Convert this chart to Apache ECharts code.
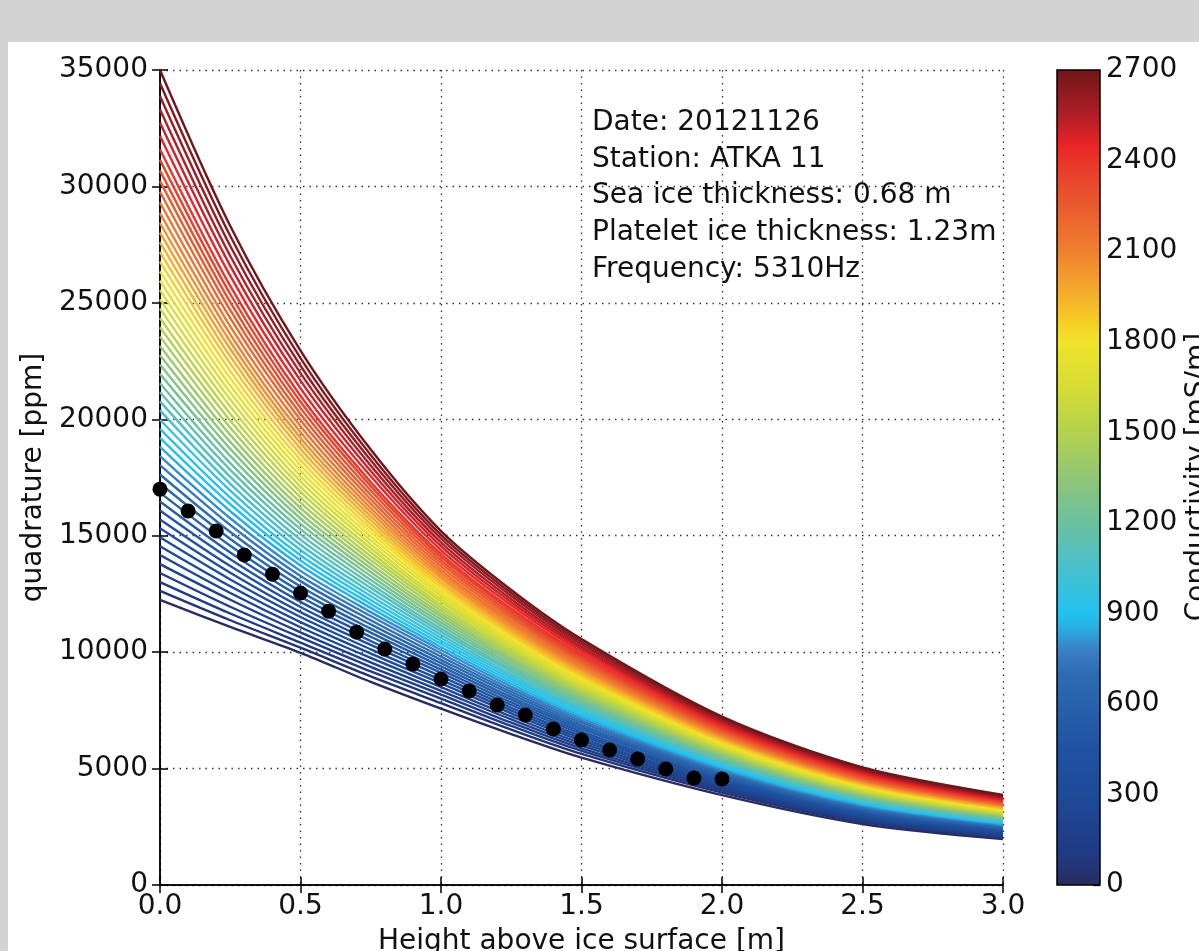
<!DOCTYPE html>
<html><head><meta charset="utf-8">
<script src="https://cdn.jsdelivr.net/npm/echarts@6/dist/echarts.min.js"></script>
<style>
html,body{margin:0;padding:0;background:#d3d3d4;overflow:hidden;}
#panel{position:absolute;left:8px;top:42px;width:1191px;height:909px;background:#fff;}
#c{position:absolute;left:0;top:0;width:1199px;height:951px;}
</style></head>
<body><div id="panel"></div><div id="c"></div>
<script>
// ---- data ----
const heights = [0, 0.25, 0.5, 0.75, 1.0, 1.25, 1.5, 2.0, 2.5, 3.0];
const conductivities = [0,50,100,150,200,250,300,350,400,450,500,550,600,650,700,750,800,850,900,950,1000,
  1050,1100,1150,1200,1250,1300,1350,1400,1450,1500,1550,1600,1650,1700,1750,1800,1850,1900,1950,2000,
  2050,2100,2150,2200,2250,2300,2350,2400,2450,2500,2550,2600,2650,2700];
const q_h000 = [12240,12630,13010,13400,13780,14170,14550,14930,15320,15700,16080,16470,16850,17240,17630,18030,18420,18810,19200,19590,19980,
  20380,20770,21160,21550,21950,22350,22750,23150,23550,23950,24350,24750,25150,25550,25950,26350,26770,27180,27600,28020,
  28430,28850,29310,29770,30230,30680,31140,31600,32170,32730,33300,33870,34430,35000];
const q_h025 = [11080,11370,11660,11950,12250,12540,12830,13120,13410,13700,13990,14280,14570,14860,15160,15460,15750,16050,16350,16640,16940,
  17230,17530,17830,18120,18430,18730,19030,19330,19640,19940,20240,20550,20850,21150,21450,21760,22070,22390,22700,23020,
  23330,23650,23990,24340,24690,25030,25380,25730,26160,26590,27010,27440,27870,28300];
const q_h050 = [9970,10190,10410,10630,10850,11070,11290,11510,11720,11940,12160,12380,12600,12820,13050,13270,13490,13720,13940,14160,14390,
  14610,14830,15060,15280,15510,15740,15960,16190,16420,16650,16880,17100,17330,17560,17790,18020,18250,18490,18730,18970,
  19200,19440,19700,19970,20230,20490,20750,21010,21330,21660,21980,22300,22630,22950];
const q_h075 = [8720,8960,9170,9370,9560,9750,9940,10120,10310,10480,10660,10840,11010,11190,11370,11550,11720,11900,12070,12240,12410,
  12580,12760,12930,13100,13270,13440,13610,13780,13950,14120,14290,14460,14630,14800,14970,15140,15310,15490,15660,15830,
  16010,16180,16370,16560,16750,16940,17130,17310,17550,17780,18010,18240,18470,18700];
const q_h100 = [7570,7810,8000,8180,8340,8500,8660,8810,8960,9110,9250,9390,9530,9670,9810,9950,10090,10220,10360,10490,10620,
  10750,10880,11010,11140,11270,11400,11530,11650,11780,11910,12030,12160,12280,12410,12530,12650,12780,12910,13030,13160,
  13280,13410,13540,13680,13820,13950,14090,14220,14380,14550,14710,14880,15040,15200];
const q_h125 = [6480,6670,6830,6970,7110,7240,7370,7490,7610,7730,7840,7960,8070,8190,8300,8410,8520,8630,8740,8850,8960,
  9060,9170,9270,9380,9480,9590,9690,9790,9900,10000,10100,10200,10300,10400,10500,10600,10710,10810,10910,11010,
  11110,11220,11330,11440,11550,11660,11770,11870,12010,12140,12270,12410,12540,12670];
const q_h150 = [5470,5630,5760,5870,5990,6090,6200,6300,6400,6500,6590,6690,6780,6870,6970,7060,7150,7240,7330,7420,7510,
  7590,7680,7770,7850,7940,8020,8110,8190,8280,8360,8450,8530,8610,8700,8780,8860,8950,9030,9110,9200,
  9280,9360,9460,9550,9640,9730,9820,9910,10020,10130,10230,10340,10450,10560];
const q_h200 = [3860,3970,4050,4130,4200,4270,4340,4410,4480,4540,4600,4670,4730,4790,4850,4910,4970,5030,5090,5150,5210,
  5270,5320,5380,5440,5490,5550,5610,5660,5720,5780,5830,5890,5940,6000,6050,6100,6160,6220,6270,6330,
  6380,6440,6500,6560,6620,6680,6740,6800,6870,6940,7010,7090,7160,7230];
const q_h250 = [2620,2700,2760,2810,2870,2920,2970,3020,3060,3110,3160,3200,3250,3290,3330,3380,3420,3460,3510,3550,3590,
  3630,3680,3720,3760,3800,3840,3880,3920,3960,4000,4040,4080,4120,4160,4200,4240,4280,4320,4360,4400,
  4440,4480,4520,4570,4610,4650,4700,4740,4790,4840,4900,4950,5000,5050];
const q_h300 = [1975,2030,2080,2130,2170,2210,2250,2280,2320,2360,2390,2430,2460,2500,2530,2560,2600,2630,2670,2700,2730,
  2760,2800,2830,2860,2890,2920,2960,2990,3020,3050,3080,3110,3140,3170,3200,3230,3270,3300,3330,3360,
  3390,3420,3450,3490,3520,3560,3590,3620,3660,3700,3740,3780,3830,3870];
const measHeight = [0.0,0.1,0.2,0.3,0.4,0.5,0.6,0.7,0.8,0.9,1.0,1.1,1.2,1.3,1.4,1.5,1.6,1.7,1.8,1.9,2.0];
const measQuad = [17000,16060,15200,14170,13350,12540,11760,10860,10130,9490,8845,8330,7730,7300,6700,6225,5800,5410,4980,4590,4550];
const annotation = ["Date: 20121126","Station: ATKA 11","Sea ice thickness: 0.68 m","Platelet ice thickness: 1.23m","Frequency: 5310Hz"];

// ---- colour map (style) ----
const cmapStops = [
  [0,'#282c5e'],[100,'#203a84'],[300,'#1e4a98'],[450,'#2152a2'],[600,'#2862aa'],[700,'#2e6cb2'],[780,'#3a80c4'],
  [850,'#2aaee2'],[900,'#22c2f0'],[1050,'#48c0cc'],[1200,'#6cc0a0'],[1350,'#90c676'],[1500,'#b4d24e'],
  [1650,'#d6dc34'],[1800,'#f0e22a'],[1870,'#f6cc26'],[1950,'#f5b02c'],[2100,'#f08030'],[2250,'#e95a2e'],
  [2380,'#ea3a2a'],[2450,'#ea2428'],[2550,'#b01e26'],[2700,'#701619']];
function hex2rgb(h){return [1,3,5].map(i=>parseInt(h.substr(i,2),16));}
function cmap(v){
  for(let i=1;i<cmapStops.length;i++){
    if(v<=cmapStops[i][0]){
      const [v0,c0]=cmapStops[i-1],[v1,c1]=cmapStops[i];
      const t=(v-v0)/(v1-v0),a=hex2rgb(c0),b=hex2rgb(c1);
      return 'rgb('+a.map((x,k)=>Math.round(x+(b[k]-x)*t)).join(',')+')';
    }
  }
  return cmapStops[cmapStops.length-1][1];
}
const cols=[q_h000,q_h025,q_h050,q_h075,q_h100,q_h125,q_h150,q_h200,q_h250,q_h300];
const FONT='DejaVu Sans';
const series=[];
conductivities.forEach((s,i)=>{
  series.push({type:'line',xAxisIndex:0,yAxisIndex:0,smooth:0.3,showSymbol:false,silent:true,
    data:heights.map((x,j)=>[x,cols[j][i]]),
    lineStyle:{color:cmap(s),width:2.4},z:2});
});
series.push({type:'scatter',xAxisIndex:0,yAxisIndex:0,symbolSize:15,itemStyle:{color:'#000',opacity:1},
  data:measHeight.map((h,i)=>[h,measQuad[i]]),z:5});
series.push({type:'bar',xAxisIndex:2,yAxisIndex:2,barWidth:'100%',data:[2700],silent:true,
  itemStyle:{color:{type:'linear',x:0,y:1,x2:0,y2:0,colorStops:cmapStops.map(([v,c])=>({offset:v/2700,color:c}))}}});

const axisLine={show:true,lineStyle:{color:'#000',width:1.5}};
const tick={show:true,inside:true,length:8,lineStyle:{color:'#000',width:1.5}};
const grid={show:true,lineStyle:{color:'#333',width:1.3,type:[1.5,5]}};
const lbl={color:'#111',fontSize:28,fontFamily:FONT};
const option={
  animation:false,
  textStyle:{fontFamily:FONT},
  grid:[{left:160,top:70,width:843,height:815,outerBoundsMode:'none',containLabel:false},
        {left:1057,top:70,width:43,height:815,outerBoundsMode:'none',containLabel:false}],
  xAxis:[
    {gridIndex:0,type:'value',min:0,max:3,interval:0.5,position:'bottom',axisLine,axisTick:tick,splitLine:grid,
     axisLabel:Object.assign({formatter:v=>v.toFixed(1),margin:8},lbl),
     name:'Height above ice surface [m]',nameLocation:'middle',nameGap:43,nameTextStyle:{fontSize:28,color:'#111',fontFamily:FONT}},
    {gridIndex:0,type:'value',min:0,max:3,interval:0.5,position:'top',axisLine,axisTick:tick,splitLine:{show:false},axisLabel:{show:false}},
    {gridIndex:1,type:'category',data:['c'],show:false}
  ],
  yAxis:[
    {gridIndex:0,type:'value',min:0,max:35000,interval:5000,position:'left',axisLine,axisTick:tick,splitLine:grid,
     axisLabel:Object.assign({formatter:v=>String(v),margin:12},lbl),
     name:'quadrature [ppm]',nameLocation:'middle',nameRotate:90,nameGap:104,nameTextStyle:{fontSize:28,color:'#111',fontFamily:FONT}},
    {gridIndex:0,type:'value',min:0,max:35000,interval:5000,position:'right',axisLine,axisTick:tick,splitLine:{show:false},axisLabel:{show:false}},
    {gridIndex:1,type:'value',min:0,max:2700,interval:300,position:'right',axisLine:{show:false},
     axisTick:{show:true,inside:true,length:7,lineStyle:{color:'#000',width:1.3}},splitLine:{show:false},
     axisLabel:Object.assign({margin:6,formatter:v=>String(v)},lbl)}
  ],
  graphic:annotation.map((t,i)=>({type:'text',left:592,top:109+i*36.6,z:10,silent:true,
    style:{text:t,fontSize:28,fontFamily:FONT,fill:'#111'}})).concat([
    {type:'rect',shape:{x:1057,y:70,width:43,height:815},z:20,silent:true,style:{fill:null,stroke:'#000',lineWidth:1.5}},
    {type:'text',x:1198,y:477,rotation:Math.PI/2,z:10,silent:true,
     style:{text:'Conductivity [mS/m]',fontSize:28,fontFamily:FONT,fill:'#111',align:'center',verticalAlign:'middle'}}]),
  series
};
echarts.init(document.getElementById('c'),null,{renderer:'canvas'}).setOption(option);
</script></body></html>
